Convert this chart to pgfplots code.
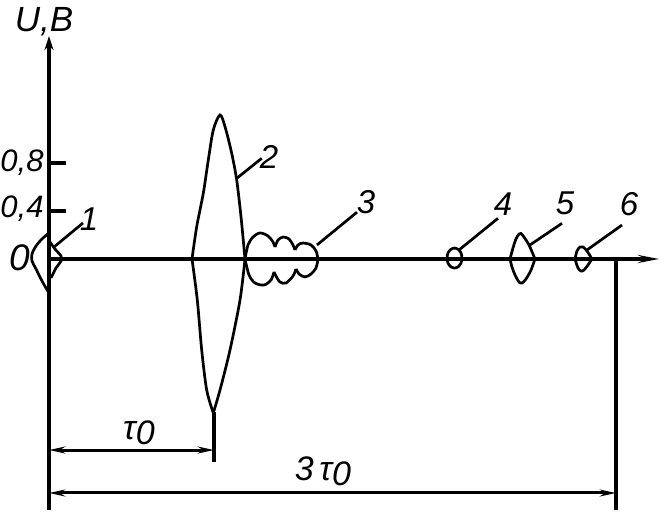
\documentclass[border=0pt]{standalone}
\usepackage{pgfplots}
\pgfplotsset{compat=1.18}
\usepackage{fontspec}
\setmainfont{Liberation Sans}
\usetikzlibrary{arrows.meta}
\tikzset{
  lbl/.style={font=\itshape\fontsize{16.5}{16.5}\selectfont},
  tk/.style={font=\itshape\fontsize{15.5}{15.5}\selectfont},
  crv/.style={black, line width=1.35pt, smooth},
  ldr/.style={black, line width=1.35pt},
  ax/.style={black, line width=1.6pt},
  dim/.style={black, line width=1.5pt, {Stealth[length=8pt,width=3.4pt]}-{Stealth[length=8pt,width=3.4pt]}}}
\begin{document}
\begin{tikzpicture}
\begin{axis}[name=ax, hide axis, clip=false, x=0.5pt, y=60pt,
  xmin=0, xmax=671, ymin=-2.125, ymax=2.1583]
% axes
\addplot[ax, -{Stealth[length=7pt,width=4.5pt]}] coordinates {(49,-2.092) (49,1.858)};
\addplot[ax, -{Stealth[length=10pt,width=3.4pt]}] coordinates {(49,0) (660,0)};
\addplot[ax] coordinates {(49,0.4) (66,0.4)};
\addplot[ax] coordinates {(49,0.8) (66,0.8)};
% tick labels and axis name
\node[tk] at (axis cs:22,0.8) {0,8};
\node[tk] at (axis cs:22,0.42) {0,4};
\node[font=\itshape\fontsize{18.5}{18.5}\selectfont] at (axis cs:20,0.01) {0};
\node[font=\itshape\fontsize{17.5}{17.5}\selectfont] at (axis cs:44,1.98) {U,B};
% shape 1
\addplot[crv] coordinates {(49,0.217) (42,0.167) (36,0.108) (32,0.042) (32,-0.017) (36,-0.083) (42,-0.183) (49,-0.285)};
\addplot[crv] coordinates {(50,0.142) (55,0.083) (61,0.025) (61,-0.017) (56,-0.075) (51,-0.158)};
\addplot[ldr] coordinates {(54,0.1) (83,0.3)};
\node[lbl] at (axis cs:89,0.33) {1};
% shape 2
\addplot[crv] coordinates {(192,0) (196.7,0.269) (203.3,0.548) (208.3,0.825) (213.3,1.075) (220,1.2) (225,1.103) (231.7,0.881) (236.7,0.658) (241,0.353) (245,0)};
\addplot[crv] coordinates {(245,0) (240,-0.342) (230,-0.758) (220,-1.092) (213.3,-1.283)};
\addplot[crv] coordinates {(213.3,-1.283) (206.7,-1.092) (201.7,-0.758) (197.3,-0.342) (192,0)};
\addplot[ldr] coordinates {(236.7,0.672) (261.7,0.839)};
\node[lbl] at (axis cs:269,0.85) {2};
% shape 3
\addplot[crv] coordinates {(245,0) (248,0.117) (253,0.183) (260,0.217) (268,0.192) (273,0.142) (275,0.1)};
\addplot[crv] coordinates {(275,0.1) (278,0.158) (283,0.183) (289,0.167) (293,0.117) (295,0.075)};
\addplot[crv] coordinates {(295,0.075) (298,0.117) (303,0.133) (311,0.117) (316,0.067) (318,0)};
\addplot[crv] coordinates {(318,0) (316,-0.075) (311,-0.125) (305,-0.15) (299,-0.125) (296,-0.083)};
\addplot[crv] coordinates {(296,-0.083) (293,-0.142) (286,-0.2) (280,-0.192) (276,-0.142) (274,-0.108)};
\addplot[crv] coordinates {(274,-0.108) (271,-0.175) (264,-0.217) (255,-0.2) (249,-0.133) (245,0)};
\addplot[ldr] coordinates {(317,0.117) (357,0.39)};
\node[lbl] at (axis cs:366,0.47) {3};
% shape 4
\addplot[crv, smooth cycle] coordinates {(462,0.008) (461,0.050) (458.25,0.080) (454.5,0.091) (450.75,0.080) (448,0.050) (447,0.008) (448,-0.034) (450.75,-0.064) (454.5,-0.075) (458.25,-0.064) (461,-0.034)};
\addplot[ldr] coordinates {(459,0.075) (498,0.339)};
\node[lbl] at (axis cs:503,0.46) {4};
% shape 5
\addplot[crv] coordinates {(510,0) (513,0.092) (516,0.167) (519,0.208) (521,0.213) (524,0.183) (529,0.117) (535,0)};
\addplot[crv] coordinates {(535,0) (531,-0.092) (526,-0.167) (522,-0.2) (519,-0.192) (515,-0.133) (512,-0.067) (510,0)};
\addplot[ldr] coordinates {(530,0.117) (562,0.297)};
\node[lbl] at (axis cs:565,0.46) {5};
% shape 6
\addplot[crv] coordinates {(575,0) (577,0.067) (580,0.1) (583,0.1) (587,0.067) (592,0)};
\addplot[crv] coordinates {(592,0) (588,-0.05) (584,-0.092) (581,-0.1) (578,-0.075) (575,0)};
\addplot[ldr] coordinates {(587,0.075) (622,0.283)};
\node[lbl] at (axis cs:629,0.46) {6};
% dimension lines
\addplot[ax] coordinates {(214,-1.275) (214,-1.69)};
\addplot[ax] coordinates {(616,0) (616,-2.092)};
\addplot[dim] coordinates {(49,-1.592) (214,-1.592)};
\addplot[dim] coordinates {(49,-1.95) (616,-1.95)};
\node[font=\itshape\fontsize{17}{17}\selectfont] at (axis cs:139,-1.45) {τ\raisebox{-0.3ex}{0}};
\node[font=\itshape\fontsize{17}{17}\selectfont] at (axis cs:323,-1.77) {3\,τ\raisebox{-0.3ex}{0}};
\end{axis}
\pgfresetboundingbox
\path (ax.south west) rectangle (ax.north east);
\end{tikzpicture}
\end{document}
